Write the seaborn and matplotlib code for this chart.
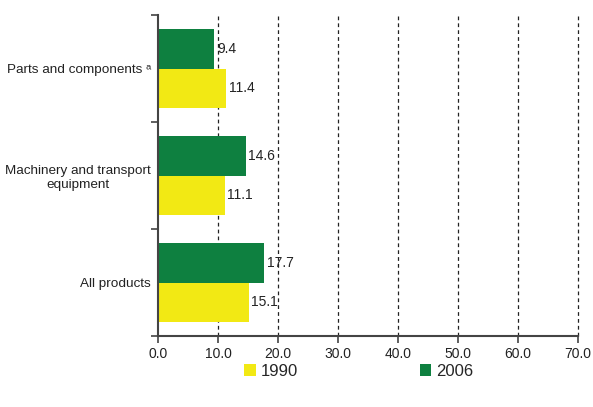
import pandas as pd
import matplotlib
matplotlib.use("Agg")
import matplotlib.pyplot as plt
import seaborn as sns
from matplotlib.patches import Patch

categories = [
    "Parts and components \u1d43",
    "Machinery and transport\nequipment",
    "All products",
]
years = ["1990", "2006"]
values_1990 = [11.4, 11.1, 15.1]
values_2006 = [9.4, 14.6, 17.7]
x_ticks = [0, 10, 20, 30, 40, 50, 60, 70]

colors = {"1990": "#f2e914", "2006": "#0e8040"}

df = pd.DataFrame({
    "category": categories * 2,
    "year": ["1990"] * 3 + ["2006"] * 3,
    "value": values_1990 + values_2006,
})

sns.set_style("white")
plt.rcParams["font.family"] = ["Liberation Sans", "DejaVu Sans"]

fig = plt.figure(figsize=(5.93, 4.07), dpi=100)
ax = fig.add_axes([0.2664, 0.1744, 0.7083, 0.7887])

sns.barplot(
    data=df,
    y="category",
    x="value",
    hue="year",
    hue_order=["2006", "1990"],
    order=categories,
    palette=colors,
    orient="h",
    width=0.74,
    saturation=1,
    linewidth=0,
    legend=False,
    ax=ax,
)

# value labels
for container in ax.containers:
    ax.bar_label(
        container,
        fmt="%.1f",
        padding=2,
        fontsize=10,
        color="#222222",
    )

ax.set_xlim(0, 70)
ax.set_ylim(2.5, -0.5)
ax.set_xticks(x_ticks)
ax.set_xticklabels([f"{v:.1f}" for v in x_ticks], fontsize=10, color="#222222")

# category boundaries as major ticks, labels as minor ticks
ax.set_yticks([-0.5, 0.5, 1.5, 2.5])
ax.set_yticklabels([])
ax.set_yticks([0, 1, 2], minor=True)
ax.set_yticklabels(categories, minor=True, fontsize=9.7,
                   color="#222222", multialignment="center")
ax.tick_params(axis="y", which="minor", left=True, length=0, pad=5)
ax.tick_params(axis="y", which="major", left=True, length=5, width=1.2,
               color="#444444", direction="out")
ax.tick_params(axis="x", bottom=True, length=5, width=1.2, color="#444444",
               direction="out", pad=3)

ax.set_xlabel("")
ax.set_ylabel("")

for x in x_ticks[1:]:
    ax.axvline(x, color="#222222", linestyle=(0, (3, 2.5)),
               linewidth=0.9, zorder=0, clip_on=False)

sns.despine(ax=ax, top=True, right=True)
ax.spines["left"].set_color("#444444")
ax.spines["left"].set_linewidth(1.5)
ax.spines["bottom"].set_color("#444444")
ax.spines["bottom"].set_linewidth(1.5)

handles = [Patch(facecolor=colors[y], edgecolor="none", label=y) for y in years]
fig.legend(
    handles=handles,
    loc="center",
    bbox_to_anchor=(0.605, 0.088),
    ncol=2,
    frameon=False,
    fontsize=12,
    handlelength=0.7,
    handleheight=0.7,
    handletextpad=0.3,
    columnspacing=7.3,
)

fig.savefig("out.png", dpi=100)
